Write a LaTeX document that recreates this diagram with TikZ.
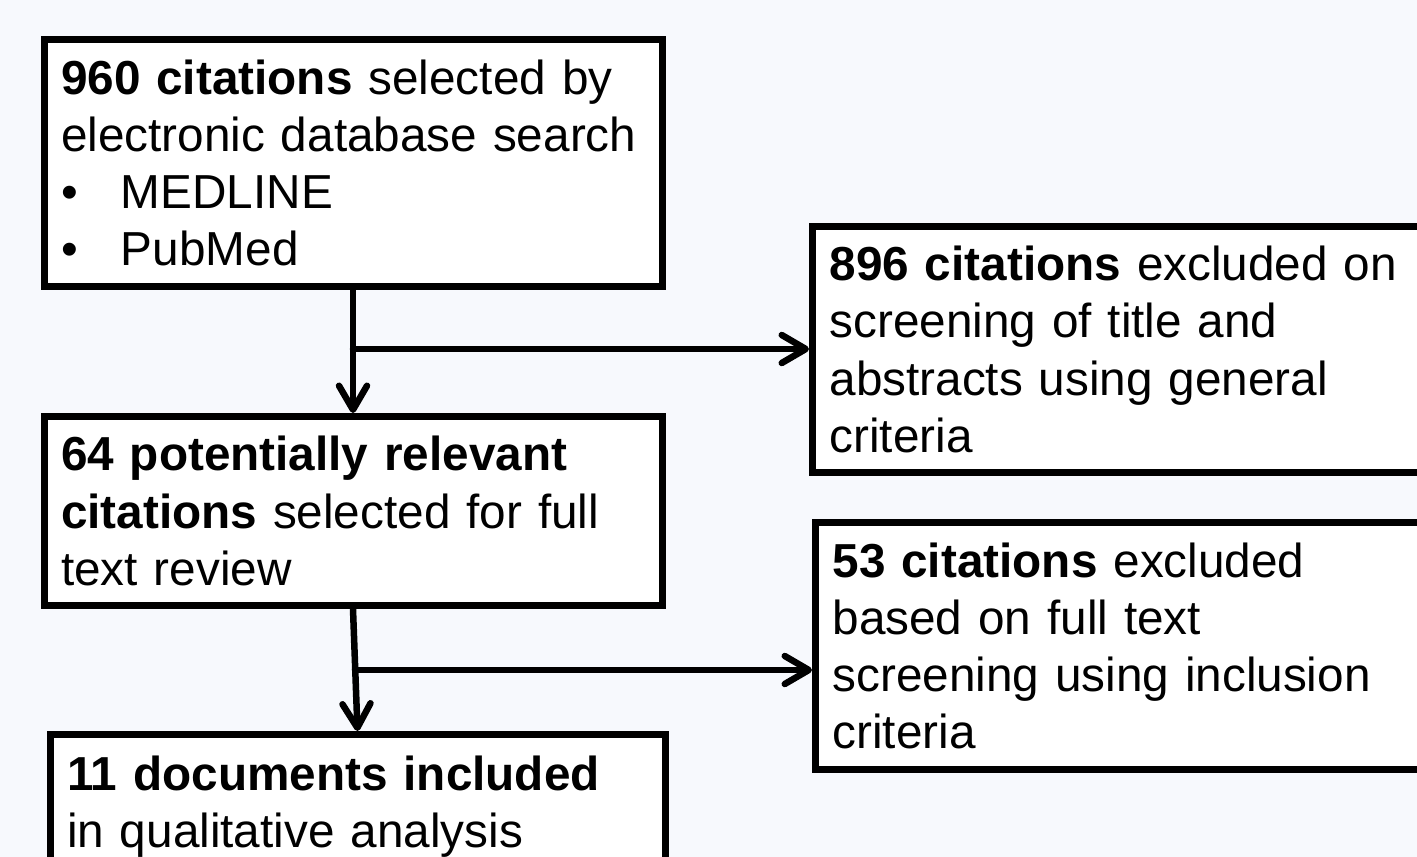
\documentclass[tikz,border=0pt]{standalone}
\usepackage{fontspec}
\setmainfont{Liberation Sans}
\usetikzlibrary{arrows.meta}
\definecolor{bg}{RGB}{247,249,253}
\begin{document}
\begin{tikzpicture}[x=1pt,y=-1pt,
  box/.style={draw=black, fill=white, line width=7pt, inner xsep=17pt, inner ysep=0pt,
    align=left, font=\fontsize{47.7}{57.2}\selectfont},
  flow/.style={line width=6.5pt, line cap=round, line join=round,
    -{Straight Barb[round,length=24pt,width=28pt]}}
]
\useasboundingbox (0,0) rectangle (1417,857);
\fill[bg] (0,0) rectangle (1417,857);
\clip (0,0) rectangle (1417,857);

\node[box, text width=584pt, minimum height=247pt] (b1) at (353,163)
  {\textbf{960 citations} selected by\\
   electronic database search\\
   \makebox[60pt][l]{•}MEDLINE\\
   \makebox[60pt][l]{•}PubMed};

\node[box, text width=584pt, minimum height=189pt] (b2) at (353,511)
  {\textbf{64 potentially relevant}\\
   \textbf{citations} selected for full\\
   text review};

\node[box, text width=581pt, inner ysep=21pt, anchor=north] (b3) at (357.5,731)
  {\textbf{11 documents included}\\
   in qualitative analysis};

\node[box, text width=660pt, minimum height=246pt, anchor=west] (r1) at (809,349.5)
  {\textbf{896 citations} excluded on\\
   screening of title and\\
   abstracts using general\\
   criteria};

\node[box, text width=660pt, minimum height=247pt, anchor=west] (r2) at (812,646)
  {\textbf{53 citations} excluded\\
   based on full text\\
   screening using inclusion\\
   criteria};

\coordinate (j1) at (353,349);
\coordinate (j2) at (355,670);

\draw[flow] (b1.south) -- (b2.north);
\draw[flow] (j1) -- (j1 -| r1.west);
\draw[flow] (b2.south) -- (b3.north);
\draw[flow] (j2) -- (j2 -| r2.west);
\end{tikzpicture}
\end{document}
